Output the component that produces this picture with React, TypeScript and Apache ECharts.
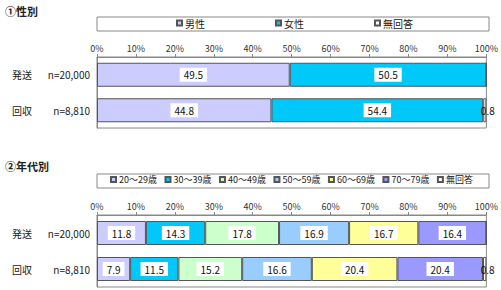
import React, { useEffect, useRef } from "react";
import * as echarts from "echarts";

const categories = ["発送", "回収"];
const sampleSizes = ["n=20,000", "n=8,810"];

const genderNames = ["男性", "女性", "無回答"];
const genderValues = [
  [49.5, 44.8],
  [50.5, 54.4],
  [0, 0.8],
];
const genderColors = ["#ccccff", "#00c8f8", "#ffffff"];

const ageNames = ["20～29歳", "30～39歳", "40～49歳", "50～59歳", "60～69歳", "70～79歳", "無回答"];
const ageValues = [
  [11.8, 7.9],
  [14.3, 11.5],
  [17.8, 15.2],
  [16.9, 16.6],
  [16.7, 20.4],
  [16.4, 20.4],
  [0, 0.8],
];
const ageColors = ["#ccccff", "#00c8f8", "#ccffcc", "#99ccff", "#ffff99", "#9999ff", "#ffffff"];

const tickValues = [0, 10, 20, 30, 40, 50, 60, 70, 80, 90, 100];

const FONT = "'Noto Sans CJK JP', sans-serif";

function buildSeries(names: string[], values: number[][], colors: string[], axisIndex: number) {
  const totals = categories.map((_, ci) => values.reduce((s, row) => s + row[ci], 0));
  return names.map((name, si) => {
    const last = si === names.length - 1;
    return {
      name,
      type: "bar",
      stack: "s" + axisIndex,
      xAxisIndex: axisIndex,
      yAxisIndex: axisIndex,
      barWidth: 24,
      itemStyle: { color: colors[si], borderColor: "#555555", borderWidth: 1 },
      label: {
        show: true,
        position: "inside",
        fontFamily: FONT,
        fontSize: 10,
        color: "#111",
        backgroundColor: last ? "transparent" : "#ffffff",
        padding: [2, 4],
        offset: last ? [3, 0] : [0, 0],
        formatter: (p: any) => {
          const raw = values[si][p.dataIndex];
          return raw > 0 ? raw.toFixed(1) : "";
        },
      },
      emphasis: { disabled: true },
      data: values[si].map((v, ci) => (v / totals[ci]) * 100),
    };
  });
}

function xAxisFor(gridIndex: number) {
  return {
    gridIndex,
    type: "value",
    position: "top",
    min: 0,
    max: 100,
    interval: 10,
    axisLine: { show: true, lineStyle: { color: "#888" } },
    axisTick: { show: true, length: 3, lineStyle: { color: "#888" } },
    splitLine: { show: false },
    axisLabel: {
      formatter: (v: number) => (tickValues.includes(v) ? v + "%" : ""),
      fontFamily: FONT,
      fontSize: 9,
      color: "#333",
      margin: 4,
    },
  };
}

function yAxisFor(gridIndex: number) {
  return {
    gridIndex,
    type: "category",
    inverse: true,
    data: categories,
    axisLine: { show: true, lineStyle: { color: "#888" } },
    axisTick: { show: false },
    axisLabel: {
      margin: 7,
      formatter: (v: string, i: number) => `{a|${v}}{b|${sampleSizes[i]}}`,
      rich: {
        a: { width: 38, align: "left", fontFamily: FONT, fontSize: 10, color: "#222" },
        b: { width: 40, align: "right", fontFamily: FONT, fontSize: 10, color: "#222" },
      },
    },
  };
}

export default function App() {
  const ref = useRef<HTMLDivElement>(null);
  useEffect(() => {
    document.body.style.margin = "0";
    const chart = echarts.init(ref.current!, null, { renderer: "svg" });
    chart.setOption({
      animation: false,
      backgroundColor: "#ffffff",
      title: [
        { text: "①性別", left: 0, top: 0, textStyle: { fontFamily: FONT, fontSize: 11, fontWeight: "bold", color: "#222" } },
        { text: "②年代別", left: 0, top: 155, textStyle: { fontFamily: FONT, fontSize: 11, fontWeight: "bold", color: "#222" } },
      ],
      graphic: [
        { type: "rect", z: 0, shape: { x: 97, y: 17, width: 392, height: 14 }, style: { fill: "#fff", stroke: "#888", lineWidth: 1 } },
        { type: "rect", z: 0, shape: { x: 97, y: 174, width: 392, height: 14 }, style: { fill: "#fff", stroke: "#888", lineWidth: 1 } },
      ],
      legend: [
        {
          data: genderNames,
          left: 176,
          top: 18,
          itemWidth: 5,
          itemHeight: 5,
          itemGap: 70,
          padding: 0,
          selectedMode: false,
          icon: "rect",
          textStyle: { fontFamily: FONT, fontSize: 10, color: "#222", padding: [0, 0, 0, -2] },
        },
        {
          data: ageNames,
          left: 110,
          top: 175,
          itemWidth: 5,
          itemHeight: 5,
          itemGap: 7.5,
          padding: 0,
          selectedMode: false,
          icon: "rect",
          textStyle: { fontFamily: FONT, fontSize: 9, color: "#222", padding: [0, 0, 0, -2] },
        },
      ],
      grid: [
        { left: 97, right: 12, top: 57, height: 71, show: true, borderColor: "#888", borderWidth: 1, backgroundColor: "transparent" },
        { left: 97, right: 12, top: 215, height: 72, show: true, borderColor: "#888", borderWidth: 1, backgroundColor: "transparent" },
      ],
      xAxis: [xAxisFor(0), xAxisFor(1)],
      yAxis: [yAxisFor(0), yAxisFor(1)],
      series: [
        ...buildSeries(genderNames, genderValues, genderColors, 0),
        ...buildSeries(ageNames, ageValues, ageColors, 1),
      ],
    });
    return () => chart.dispose();
  }, []);
  return <div ref={ref} style={{ width: 501, height: 290 }} />;
}
